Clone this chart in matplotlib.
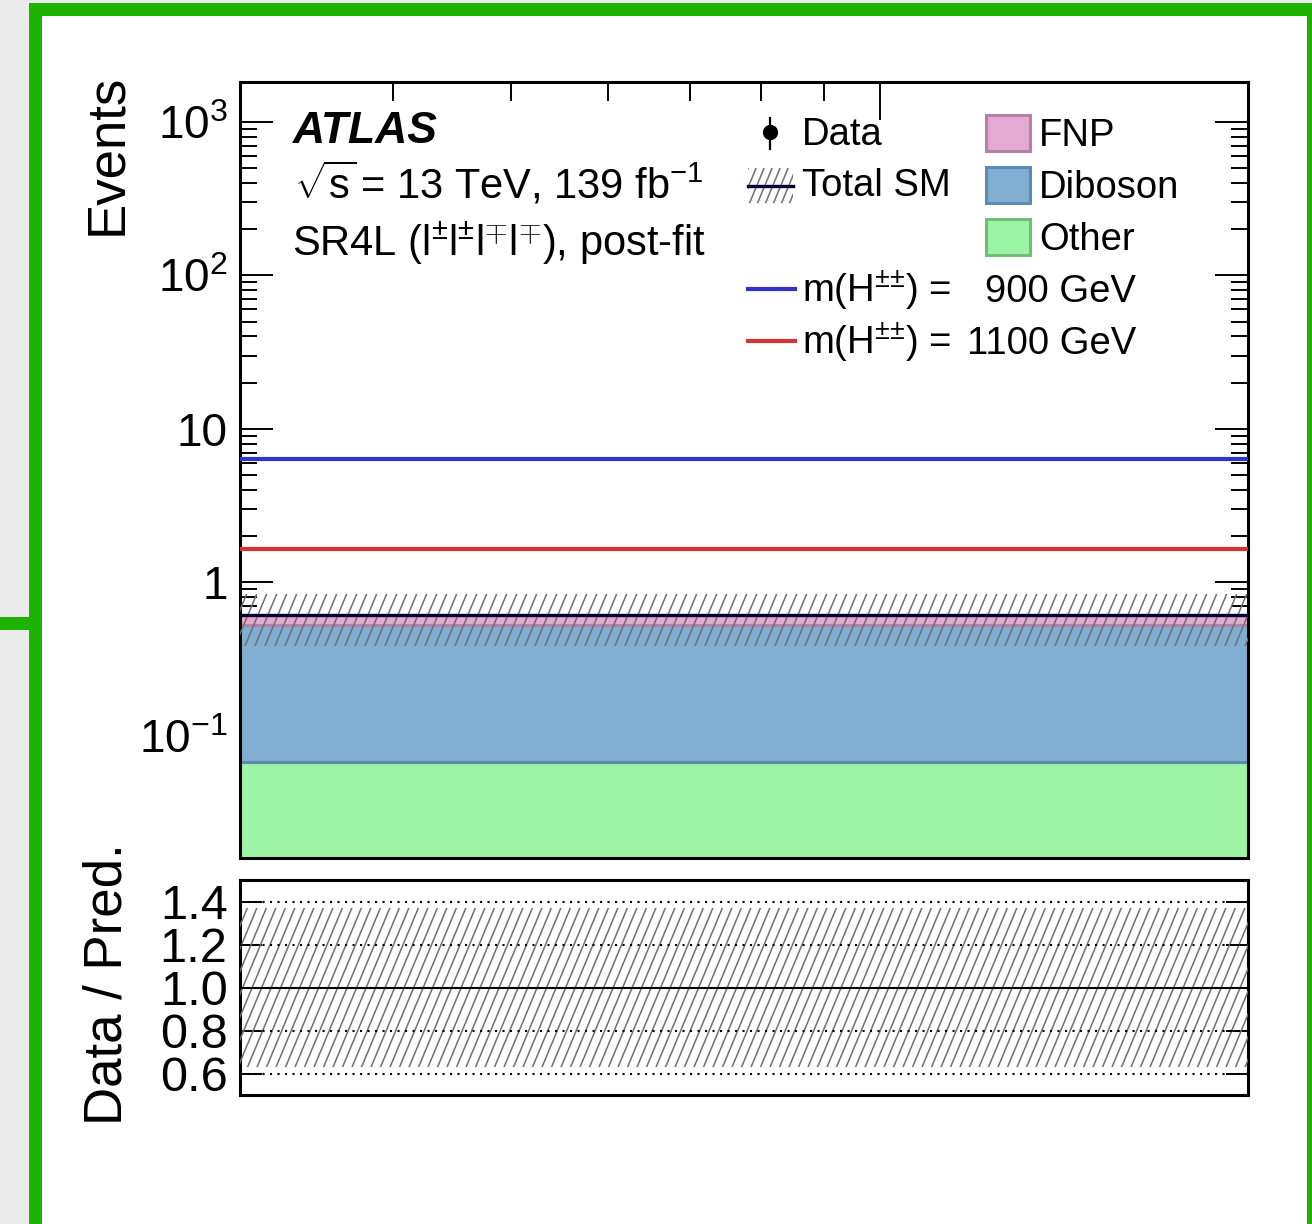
import numpy as np
import matplotlib
matplotlib.use("Agg")
import matplotlib.pyplot as plt
from matplotlib.patches import Rectangle
from matplotlib.collections import LineCollection
from matplotlib.ticker import LogLocator, NullFormatter, FixedLocator, FixedFormatter

plt.rcParams['font.family'] = ['Liberation Sans', 'DejaVu Sans']
plt.rcParams['mathtext.fontset'] = 'custom'
plt.rcParams['mathtext.rm'] = 'Liberation Sans'
plt.rcParams['mathtext.it'] = 'Liberation Sans:italic'
plt.rcParams['mathtext.bf'] = 'Liberation Sans:bold'

# ---- data (single signal region bin) ----
bin_edges = [0.3, 2.0]
other = [0.067]
diboson = [0.458]
fnp = [0.087]
total_unc = [0.225]
data_obs = [0]
sig_900 = [6.38]
sig_1100 = [1.66]

bkg_names = ["FNP", "Diboson", "Other"]
bkg_face = ["#e6a9d1", "#7faed2", "#9cf4a5"]
bkg_edge = ["#b283a6", "#5d8bb0", "#72bc7a"]

ytick_vals = [0.1, 1, 10, 100, 1000]
ytick_labels = [r"$10^{-1}$", "1", "10", r"$10^{2}$", r"$10^{3}$"]
rtick_vals = [0.6, 0.8, 1.0, 1.2, 1.4]
rtick_labels = ["0.6", "0.8", "1.0", "1.2", "1.4"]

W, H = 1312, 1224
fig = plt.figure(figsize=(W / 100, H / 100), dpi=100)
fig.patch.set_facecolor("#ebebeb")


def fig_rect(x, y, w, h, color):
    r = Rectangle((x / W, 1 - (y + h) / H), w / W, h / H, transform=fig.transFigure,
                  facecolor=color, edgecolor="none", zorder=-10)
    fig.patches.append(r)


# page frame around the plot
green = "#1eb200"
fig_rect(42, 16, 1265, 1208, "white")
fig_rect(29, 3, 13, 1221, green)
fig_rect(29, 3, 1283, 13, green)
fig_rect(1307, 3, 5, 1221, green)
fig_rect(0, 617, 29, 13, green)


def axes_px(x0, y0, x1, y1):
    return [x0 / W, 1 - y1 / H, (x1 - x0) / W, (y1 - y0) / H]


ax = fig.add_axes(axes_px(240, 82, 1248, 858))
rax = fig.add_axes(axes_px(240, 880, 1248, 1095))


def draw_hatch(a, clip, wpx, hpx, spacing=10, slope=2.4, color="#707070", lw=1.1, z=5):
    # slanted hatch lines in axes coords, clipped to a patch
    run = hpx / slope
    segs = []
    for x0 in np.arange(-run, wpx + spacing, spacing):
        segs.append([(x0 / wpx, 0), ((x0 + run) / wpx, 1)])
    lc = LineCollection(segs, colors=color, linewidths=lw, transform=a.transAxes, zorder=z)
    a.add_collection(lc)
    lc.set_clip_path(clip)
    return lc


edges = np.array(bin_edges)
widths = np.diff(edges)
total = np.array(other) + np.array(diboson) + np.array(fnp)
unc = np.array(total_unc)

# stacked backgrounds (bottom up: Other, Diboson, FNP)
bottom = np.full(len(widths), 1e-3)
for vals, fc, ec in zip([other, diboson, fnp], bkg_face[::-1], bkg_edge[::-1]):
    ax.bar(edges[:-1], vals, width=widths, bottom=bottom, align="edge",
           color=fc, edgecolor=ec, linewidth=2.2, zorder=2)
    bottom = bottom + np.array(vals)

ax.stairs(total, edges, baseline=None, color="#000033", linewidth=2.4, zorder=6)
ax.stairs(sig_900, edges, baseline=None, color="#3333cc", linewidth=3, zorder=6)
ax.stairs(sig_1100, edges, baseline=None, color="#d63333", linewidth=3, zorder=6)

band = Rectangle((edges[0], total[0] - unc[0]), widths[0], 2 * unc[0], facecolor="none",
                 edgecolor="none", transform=ax.transData)
ax.add_patch(band)
draw_hatch(ax, band, 1008, 776)

obs = np.array(data_obs, dtype=float)
centers = np.sqrt(edges[:-1] * edges[1:])
mask = obs > 0
if mask.any():
    ax.errorbar(centers[mask], obs[mask], yerr=np.sqrt(obs[mask]), fmt="o", color="k", ms=9)

ax.set_xscale("log")
ax.set_yscale("log")
ax.set_xlim(edges[0], edges[-1])
ax.set_ylim(0.016, 1820)
ax.yaxis.set_major_locator(FixedLocator(ytick_vals))
ax.yaxis.set_major_formatter(FixedFormatter(ytick_labels))
ax.yaxis.set_minor_locator(LogLocator(base=10, subs=np.arange(2, 10), numticks=20))
ax.yaxis.set_minor_formatter(NullFormatter())
ax.xaxis.set_major_locator(LogLocator(base=10, numticks=10))
ax.xaxis.set_minor_locator(LogLocator(base=10, subs=np.arange(2, 10), numticks=20))
ax.xaxis.set_major_formatter(NullFormatter())
ax.xaxis.set_minor_formatter(NullFormatter())
ax.tick_params(axis="y", which="both", direction="in", left=True, right=True, width=1.4, labelsize=33, pad=9)
ax.tick_params(axis="y", which="major", length=24)
ax.tick_params(axis="y", which="minor", length=12)
ax.tick_params(axis="x", which="both", direction="in", top=True, bottom=True, width=1.4)
ax.tick_params(axis="x", which="major", length=27)
ax.tick_params(axis="x", which="minor", length=14)
for s in ax.spines.values():
    s.set_linewidth(2.2)


def axf(px, py):
    return (px - 240) / 1008, (858 - py) / 776


# header text
ax.text(*axf(293, 143), "ATLAS", transform=ax.transAxes, fontsize=32,
        fontweight="bold", fontstyle="italic", va="baseline")
ax.text(*axf(294, 199), r"$\sqrt{\mathregular{s}}\,$= 13 TeV, 139 fb$^{\mathregular{-1}}$",
        transform=ax.transAxes, fontsize=30, va="baseline")
ax.text(*axf(292, 256), r"SR4L (l$^{±}$l$^{±}$l$^{\mp}$l$^{\mp}$), post-fit", transform=ax.transAxes,
        fontsize=30, va="baseline")

# legend, column 1
x, y = axf(770, 132)
ax.plot([x], [y], "o", color="k", ms=10, transform=ax.transAxes, clip_on=False, zorder=10)
x0, y0 = axf(770, 118)
x1, y1 = axf(770, 149)
ax.plot([x0, x1], [y0, y1], color="k", lw=1.6, transform=ax.transAxes, zorder=10)
ax.text(*axf(802, 145), "Data", transform=ax.transAxes, fontsize=27.5, va="baseline")

lx0, ly0 = axf(748, 203)
lx1, ly1 = axf(793, 168)
box = Rectangle((lx0, ly0), lx1 - lx0, ly1 - ly0, transform=ax.transAxes, facecolor="none",
                edgecolor="none")
ax.add_patch(box)
draw_hatch(ax, box, 1008, 776, spacing=8, z=9)
ax.plot([lx0, lx1], [axf(0, 186)[1]] * 2, color="#000033", lw=2.4, transform=ax.transAxes, zorder=10)
ax.text(*axf(802, 196), "Total SM", transform=ax.transAxes, fontsize=27.5, va="baseline")

for col, py, mass in [("#3333cc", 289, "900 GeV"), ("#d63333", 341, "1100 GeV")]:
    ax.plot([axf(748, 0)[0], axf(795, 0)[0]], [axf(0, py)[1]] * 2, color=col, lw=3,
            transform=ax.transAxes, zorder=10)
    ax.text(*axf(802, py + 13), r"m(H$^{±±}$) =", transform=ax.transAxes, fontsize=27.5, va="baseline")
    ax.text(*axf(1136, py + 13), mass, transform=ax.transAxes, fontsize=27.5, va="baseline", ha="right")

# legend, column 2
for name, fc, ec, py in zip(bkg_names, bkg_face, bkg_edge, [115, 167, 219]):
    bx0, by0 = axf(986, py + 36)
    bx1, by1 = axf(1030, py)
    ax.add_patch(Rectangle((bx0, by0), bx1 - bx0, by1 - by0, transform=ax.transAxes,
                           facecolor=fc, edgecolor=ec, lw=2.2, zorder=10))
    ax.text(*axf(1039, py + 31), name, transform=ax.transAxes, fontsize=27.5, va="baseline")

# ratio panel
rax.set_xscale("log")
rax.set_xlim(edges[0], edges[-1])
rax.set_ylim(0.5, 1.5)
rel = unc / total
rband = Rectangle((edges[0], 1 - rel[0]), widths[0], 2 * rel[0], facecolor="none",
                  edgecolor="none", transform=rax.transData)
rax.add_patch(rband)
draw_hatch(rax, rband, 1008, 215, spacing=9.5)
for v in rtick_vals:
    if v == 1.0:
        rax.axhline(v, color="k", lw=1.5, zorder=6)
    else:
        rax.axhline(v, color="k", lw=1.5, ls=(0, (1, 2.6)), zorder=6)
rax.yaxis.set_major_locator(FixedLocator(rtick_vals))
rax.yaxis.set_major_formatter(FixedFormatter(rtick_labels))
rax.yaxis.set_minor_locator(FixedLocator([]))
rax.xaxis.set_major_locator(FixedLocator([]))
rax.xaxis.set_minor_locator(FixedLocator([]))
rax.tick_params(axis="y", direction="in", left=True, right=True, length=16, width=1.4,
                labelsize=35, pad=9)
for s in rax.spines.values():
    s.set_linewidth(2.2)

fig.text(107 / W, 1 - 74 / H, "Events", rotation=90, ha="center", va="top", fontsize=38)
fig.text(108 / W, 1 - 984 / H, "Data / Pred.", rotation=90, ha="center", va="center", fontsize=38)

fig.savefig("out.png", dpi=100)
